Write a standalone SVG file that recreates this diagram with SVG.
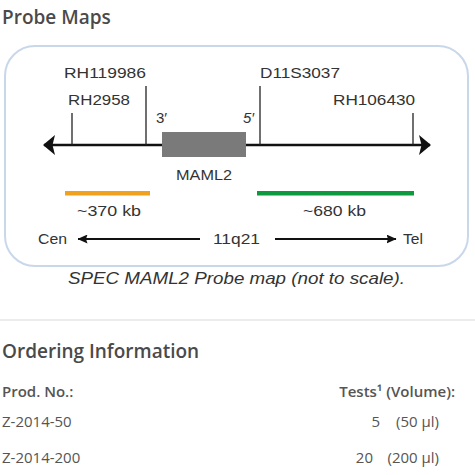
<svg xmlns="http://www.w3.org/2000/svg" width="475" height="475" viewBox="0 0 475 475">
<style>
.h{font-family:"Open Sans",sans-serif;font-weight:600;font-size:19px;fill:#4a4a4a}
.m{font-family:"Liberation Sans",sans-serif;font-size:15px;fill:#333}
.t{font-family:"Open Sans",sans-serif;font-size:15px;fill:#555}
.b{font-family:"Open Sans",sans-serif;font-size:15px;font-weight:600;fill:#555}
.tick{stroke:#222;stroke-width:1.3}
.ax{stroke:#111;stroke-width:2.5}
</style>
<defs>
<marker id="ah" viewBox="0 0 12 20" refX="11" refY="10" markerUnits="userSpaceOnUse" markerWidth="12" markerHeight="20" orient="auto-start-reverse"><path d="M0,0 L12,10 L0,20 L2.5,10 z" fill="#111"/></marker>
<marker id="sh" viewBox="0 0 10 9" refX="9.5" refY="4.5" markerUnits="userSpaceOnUse" markerWidth="10" markerHeight="9" orient="auto-start-reverse"><path d="M0,0 L10,4.5 L0,9 L1.5,4.5 z" fill="#111"/></marker>
</defs>
<text class="h" x="2" y="24">Probe Maps</text>
<rect x="5" y="46" width="463" height="220" rx="30" fill="#fff" stroke="#c9d7ea" stroke-width="2"/>
<g id="connectors">
<line class="ax" x1="44" y1="145" x2="430" y2="145" marker-start="url(#ah)" marker-end="url(#ah)"/>
<line class="tick" x1="72" y1="113" x2="72" y2="145"/>
<line class="tick" x1="146" y1="86" x2="146" y2="145"/>
<line class="tick" x1="260" y1="86" x2="260" y2="145"/>
<line class="tick" x1="413" y1="113" x2="413" y2="145"/>
<line stroke="#111" stroke-width="2" x1="78" y1="239" x2="200" y2="239" marker-start="url(#sh)"/>
<line stroke="#111" stroke-width="2" x1="275" y1="239" x2="396" y2="239" marker-end="url(#sh)"/>
</g>
<g id="gene"><rect x="162" y="132" width="84" height="25" fill="#7a7a7a"/>
<text class="m" x="176" y="180" textLength="56" lengthAdjust="spacingAndGlyphs">MAML2</text>
<text class="m" x="156" y="123" font-size="13">3′</text>
<text class="m" x="243" y="123" font-size="13" font-style="italic">5′</text></g>
<g id="markers">
<text class="m" x="64" y="78" textLength="82" lengthAdjust="spacingAndGlyphs">RH119986</text>
<text class="m" x="68" y="105" textLength="62" lengthAdjust="spacingAndGlyphs">RH2958</text>
<text class="m" x="260" y="78" textLength="80" lengthAdjust="spacingAndGlyphs">D11S3037</text>
<text class="m" x="333" y="105" textLength="82" lengthAdjust="spacingAndGlyphs">RH106430</text>
</g>
<g id="probe-orange"><rect x="65" y="191" width="85" height="4.5" fill="#f0a21f"/>
<text class="m" x="77" y="216" textLength="64" lengthAdjust="spacingAndGlyphs">~370 kb</text></g>
<g id="probe-green"><rect x="257" y="191" width="157" height="4.5" fill="#0d9a3e"/>
<text class="m" x="303" y="216" textLength="63" lengthAdjust="spacingAndGlyphs">~680 kb</text></g>
<g id="axis-labels">
<text class="m" x="38" y="244" textLength="29" lengthAdjust="spacingAndGlyphs">Cen</text>
<text class="m" x="213" y="244" textLength="47" lengthAdjust="spacingAndGlyphs">11q21</text>
<text class="m" x="403" y="244" textLength="20" lengthAdjust="spacingAndGlyphs">Tel</text>
</g>
<text x="68" y="284" textLength="337" lengthAdjust="spacingAndGlyphs" font-family="Liberation Sans, sans-serif" font-style="italic" font-size="17" fill="#333">SPEC MAML2 Probe map (not to scale).</text>
<line x1="0" y1="320" x2="475" y2="320" stroke="#e6e6e6" stroke-width="1.5"/>
<text class="h" x="2" y="358">Ordering Information</text>
<text class="b" x="2" y="397">Prod. No.:</text>
<text class="b" x="455" y="397" text-anchor="end">Tests¹ (Volume):</text>
<text class="t" x="2" y="427">Z-2014-50</text>
<text class="t" x="380" y="427" text-anchor="end">5</text>
<text class="t" x="439" y="427" text-anchor="end">(50 µl)</text>
<text class="t" x="2" y="463">Z-2014-200</text>
<text class="t" x="373" y="463" text-anchor="end">20</text>
<text class="t" x="439" y="463" text-anchor="end">(200 µl)</text>
</svg>
